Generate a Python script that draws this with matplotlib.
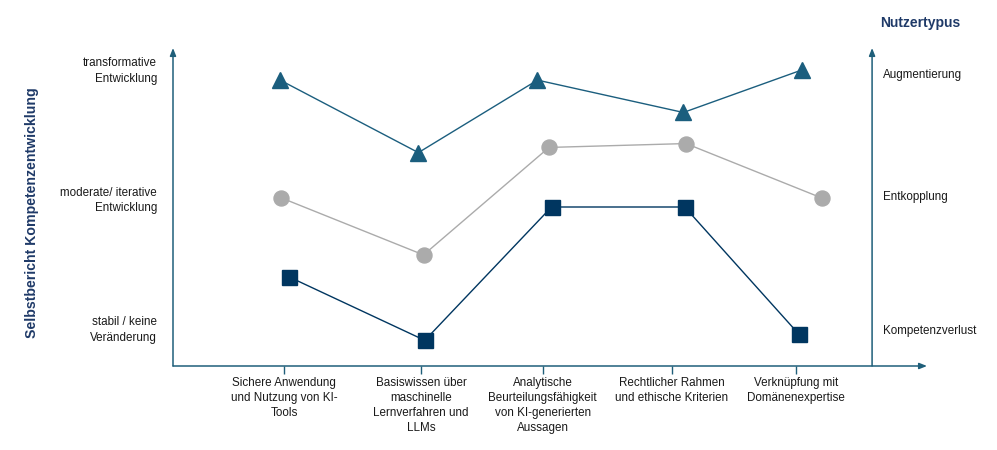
import matplotlib
matplotlib.use("Agg")
import matplotlib.pyplot as plt

plt.rcParams['font.family'] = ['Liberation Sans', 'DejaVu Sans']

# category tick positions (in category units)
tick_pos = [0.0, 1.07, 2.02, 3.03, 4.0]
tick_labels = [
    "Sichere Anwendung\nund Nutzung von KI-\nTools",
    "Basiswissen über\nmaschinelle\nLernverfahren und\nLLMs",
    "Analytische\nBeurteilungsfähigkeit\nvon KI-generierten\nAussagen",
    "Rechtlicher Rahmen\nund ethische Kriterien",
    "Verknüpfung mit\nDomänenexpertise",
]

# left scale: 1 = stabil, 2 = moderat, 3 = transformativ
level_pos = [3, 2, 1]
level_labels = ["transformative\nEntwicklung", "moderate/ iterative\nEntwicklung", "stabil / keine\nVeränderung"]

# right scale: user types
type_pos = [2.97, 2.03, 0.99]
type_labels = ["Augmentierung", "Entkopplung", "Kompetenzverlust"]

# series: Augmentierung (triangles)
aug_x = [-0.03, 1.05, 1.98, 3.12, 4.05]
aug_y = [2.93, 2.37, 2.93, 2.68, 3.01]
# Entkopplung (circles)
ent_x = [-0.02, 1.09, 2.07, 3.14, 4.20]
ent_y = [2.02, 1.58, 2.41, 2.44, 2.02]
# Kompetenzverlust (squares)
kv_x = [0.04, 1.10, 2.09, 3.13, 4.02]
kv_y = [1.41, 0.92, 1.95, 1.95, 0.97]

axis_col = "#1F5F7A"
title_col = "#1F3A68"
text_col = "#1A1A1A"

fig = plt.figure(figsize=(9.97, 4.5), dpi=100)
ax = fig.add_axes([173/997, (450-366)/450, (927-173)/997, (366-48)/450])
x0, x1 = -0.867, 5.023
y0, y1 = 0.722, 3.178
x_right = 4.594
ax.set_xlim(x0, x1)
ax.set_ylim(y0, y1)

for s in ax.spines.values():
    s.set_visible(False)

arrow = dict(arrowstyle='-|>,head_length=0.45,head_width=0.18', color=axis_col, lw=1.1,
             shrinkA=0, shrinkB=0)
ax.annotate('', xy=(x0, y1), xytext=(x0, y0), arrowprops=arrow, annotation_clip=False)
ax.annotate('', xy=(x1, y0), xytext=(x0, y0), arrowprops=arrow, annotation_clip=False)
ax.annotate('', xy=(x_right, y1), xytext=(x_right, y0), arrowprops=arrow, annotation_clip=False)

ax.plot(kv_x, kv_y, color="#003660", lw=1.0, marker='s', ms=10.8, zorder=3, clip_on=False)
ax.plot(ent_x, ent_y, color="#ABABAB", lw=1.0, marker='o', ms=10.8, zorder=3, clip_on=False)
ax.plot(aug_x, aug_y, color="#1B5E7E", lw=1.0, marker='^', ms=11.5, zorder=3, clip_on=False)

ax.set_xticks(tick_pos)
ax.set_xticklabels(tick_labels, fontsize=8.4, linespacing=1.35, va='top', color=text_col)
ax.tick_params(axis='x', length=5.8, width=1.0, color=axis_col, pad=2)
ax.set_yticks([])

for p, t in zip(level_pos, level_labels):
    ax.text(x0 - 0.125, p, t, ha='right', va='center', fontsize=8.4, linespacing=1.35,
            color=text_col)
for p, t in zip(type_pos, type_labels):
    ax.text(x_right + 0.085, p, t, ha='left', va='center', fontsize=8.4, color=text_col)

fig.text(32/997, 1 - 213/450, "Selbstbericht Kompetenzentwicklung", rotation=90,
         ha='center', va='center', fontsize=10.2, fontweight='bold', color=title_col)
fig.text(880/997, 1 - 23/450, "Nutzertypus", ha='left', va='center', fontsize=10,
         fontweight='bold', color=title_col)

fig.savefig("out.png", dpi=100)
